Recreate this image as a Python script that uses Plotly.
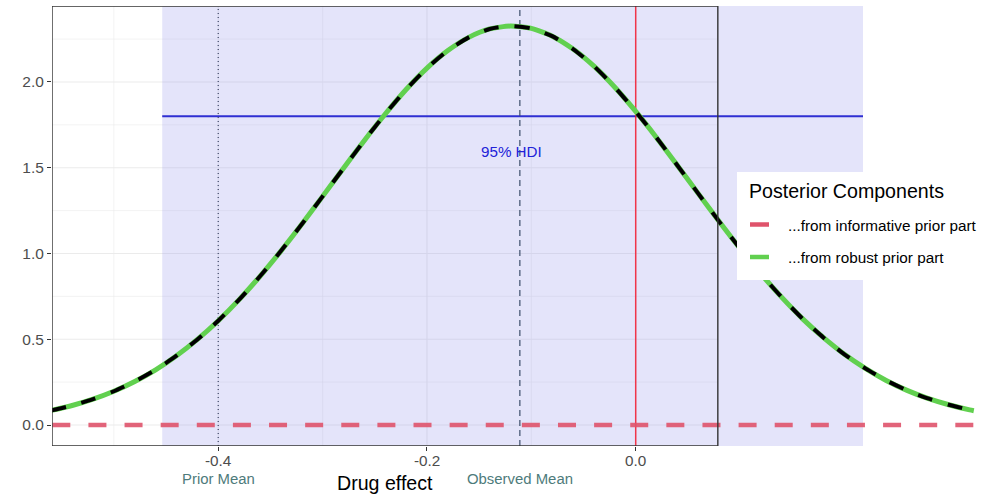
import plotly.graph_objects as go

# Posterior density of the drug effect (robust component carries all the mass)
effect = [-0.56, -0.54, -0.52, -0.50, -0.48, -0.46, -0.44, -0.42, -0.40, -0.38,
          -0.36, -0.34, -0.32, -0.30, -0.28, -0.26, -0.24, -0.22, -0.20, -0.18,
          -0.16, -0.14, -0.12, -0.10, -0.08, -0.06, -0.04, -0.02, 0.00, 0.02,
          0.04, 0.06, 0.08, 0.10, 0.12, 0.14, 0.16, 0.18, 0.20, 0.22,
          0.24, 0.26, 0.28, 0.30, 0.32, 0.324]
density_robust = [0.085, 0.114, 0.151, 0.197, 0.254, 0.322, 0.404, 0.499, 0.608, 0.731,
                  0.867, 1.014, 1.170, 1.333, 1.497, 1.659, 1.813, 1.956, 2.081, 2.183,
                  2.260, 2.309, 2.326, 2.312, 2.267, 2.192, 2.092, 1.969, 1.828, 1.675,
                  1.513, 1.349, 1.186, 1.029, 0.881, 0.744, 0.619, 0.509, 0.412, 0.330,
                  0.260, 0.202, 0.155, 0.118, 0.088, 0.083]
# Informative-prior component is flat at zero over the same span
effect_informative = [-0.559, 0.324]
density_informative = [0.0, 0.0]

# Reference values
hdi_low, hdi_high = -0.4537, 0.2178
hdi_density = 1.8
prior_mean = -0.4
observed_mean = -0.111
null_effect = 0.0

# Axes
x_range = [-0.5593, 0.3347]
panel_x = [-0.5593, 0.0787]
y_range = [-0.1223, 2.4428]
x_ticks = [-0.4, -0.2, 0.0]
x_tick_labels = ["-0.4", "-0.2", "0.0"]
y_ticks = [0.0, 0.5, 1.0, 1.5, 2.0]
y_tick_labels = ["0.0", "0.5", "1.0", "1.5", "2.0"]
x_grid_major = [-0.4, -0.2, 0.0]
x_grid_minor = [-0.5, -0.3, -0.1]
y_grid_major = [0.0, 0.5, 1.0, 1.5, 2.0]
y_grid_minor = [0.25, 0.75, 1.25, 1.75, 2.25]

legend_title = "Posterior Components"
legend_labels = ["...from informative prior part", "...from robust prior part"]

RED = "#DF536B"
GREEN = "#61D04F"
FONT = "Liberation Sans, Arial, sans-serif"
TICK_GREY = "#4D4D4D"

W, H = 999, 497
M_L, M_R, M_T, M_B = 52, 14, 6, 51


def px_x(px):
    return (px - M_L) / (W - M_L - M_R)


def px_y(py):
    return 1 - (py - M_T) / (H - M_T - M_B)


fig = go.Figure()

fig.add_trace(go.Scatter(
    x=effect_informative, y=density_informative, mode="lines",
    line=dict(color="rgba(223,83,107,0.9)", width=4.5, dash="18px,18.12px"),
    showlegend=False, hoverinfo="skip"))
fig.add_trace(go.Scatter(
    x=effect, y=density_robust, mode="lines",
    line=dict(color=GREEN, width=5, shape="spline", smoothing=0.6),
    showlegend=False, hoverinfo="skip"))
fig.add_trace(go.Scatter(
    x=effect, y=density_robust, mode="lines",
    line=dict(color="black", width=4, shape="spline", smoothing=0.6, dash="15px,16px"),
    showlegend=False, hoverinfo="skip"))

shapes = []
# panel grid, only inside the framed panel
for v in x_grid_major + x_grid_minor:
    shapes.append(dict(type="line", xref="x", yref="y", x0=v, x1=v, y0=y_range[0], y1=y_range[1],
                       line=dict(color="#EBEBEB", width=1.1 if v in x_grid_major else 0.6),
                       layer="below"))
for v in y_grid_major + y_grid_minor:
    shapes.append(dict(type="line", xref="x", yref="y", x0=panel_x[0], x1=panel_x[1], y0=v, y1=v,
                       line=dict(color="#EBEBEB", width=1.1 if v in y_grid_major else 0.6),
                       layer="below"))
# 95% HDI band
shapes.append(dict(type="rect", xref="x", yref="y", x0=hdi_low, x1=hdi_high,
                   y0=y_range[0], y1=y_range[1], fillcolor="rgba(148,148,236,0.25)",
                   line=dict(width=0), layer="below"))
# HDI density level
shapes.append(dict(type="line", xref="x", yref="y", x0=hdi_low, x1=hdi_high,
                   y0=hdi_density, y1=hdi_density,
                   line=dict(color="#2F2FD2", width=1.8), layer="below"))
# prior mean, observed mean, null effect
shapes.append(dict(type="line", xref="x", yref="y", x0=prior_mean, x1=prior_mean,
                   y0=y_range[0], y1=y_range[1],
                   line=dict(color="#4A5270", width=1.3, dash="1px,3px"), layer="below"))
shapes.append(dict(type="line", xref="x", yref="y", x0=observed_mean, x1=observed_mean,
                   y0=y_range[0], y1=y_range[1],
                   line=dict(color="#3D4F6B", width=1.2, dash="6px,4px"), layer="below"))
shapes.append(dict(type="line", xref="x", yref="y", x0=null_effect, x1=null_effect,
                   y0=y_range[0], y1=y_range[1],
                   line=dict(color="rgba(245,25,45,0.85)", width=1.5), layer="below"))
# panel frame
shapes.append(dict(type="rect", xref="x", yref="y", x0=panel_x[0], x1=panel_x[1],
                   y0=y_range[0], y1=y_range[1], line=dict(color="#333333", width=1.4),
                   fillcolor="rgba(0,0,0,0)", layer="above"))
# legend box and keys
shapes.append(dict(type="rect", xref="paper", yref="paper", x0=px_x(737), x1=px_x(1010),
                   y0=px_y(280), y1=px_y(172), fillcolor="white", line=dict(width=0),
                   layer="above"))
for key_y, col in [(224.5, RED), (257, GREEN)]:
    shapes.append(dict(type="line", xref="paper", yref="paper", x0=px_x(750), x1=px_x(769),
                       y0=px_y(key_y), y1=px_y(key_y), line=dict(color=col, width=4.5),
                       layer="above"))

annotations = [
    dict(text=legend_title, xref="paper", yref="paper", x=px_x(747), y=px_y(191),
         xanchor="left", yanchor="middle", showarrow=False,
         font=dict(family=FONT, size=19.6, color="black")),
    dict(text=legend_labels[0], xref="paper", yref="paper", x=px_x(786), y=px_y(225),
         xanchor="left", yanchor="middle", showarrow=False,
         font=dict(family=FONT, size=15.3, color="black")),
    dict(text=legend_labels[1], xref="paper", yref="paper", x=px_x(786), y=px_y(257),
         xanchor="left", yanchor="middle", showarrow=False,
         font=dict(family=FONT, size=15.3, color="black")),
    dict(text="95% HDI", xref="x", yref="y", x=-0.1188, y=1.592,
         xanchor="center", yanchor="middle", showarrow=False,
         font=dict(family=FONT, size=15.2, color="#2222D8")),
    dict(text="Prior Mean", xref="x", yref="paper", x=prior_mean, y=px_y(478.5),
         xanchor="center", yanchor="middle", showarrow=False,
         font=dict(family=FONT, size=14.9, color="#4E7B7B")),
    dict(text="Observed Mean", xref="x", yref="paper", x=observed_mean, y=px_y(478.5),
         xanchor="center", yanchor="middle", showarrow=False,
         font=dict(family=FONT, size=14.9, color="#4E7B7B")),
    dict(text="Drug effect", xref="x", yref="paper", x=(panel_x[0] + panel_x[1]) / 2,
         y=px_y(483), xanchor="center", yanchor="middle", showarrow=False,
         font=dict(family=FONT, size=19.6, color="black")),
]
# x tick labels sit tight under the tick marks
for v, lab in zip(x_ticks, x_tick_labels):
    annotations.append(dict(text=lab, xref="x", yref="paper", x=v, y=px_y(460.5),
                            xanchor="center", yanchor="middle", showarrow=False,
                            font=dict(family=FONT, size=15.3, color=TICK_GREY)))

fig.update_layout(
    width=W, height=H,
    margin=dict(l=M_L, r=M_R, t=M_T, b=M_B),
    paper_bgcolor="white", plot_bgcolor="rgba(0,0,0,0)",
    shapes=shapes, annotations=annotations,
    showlegend=False,
    xaxis=dict(range=x_range, tickvals=x_ticks, showticklabels=False,
               showgrid=False, zeroline=False, showline=False,
               ticks="outside", ticklen=4, tickwidth=1.1, tickcolor="#333333"),
    yaxis=dict(range=y_range, tickvals=y_ticks, ticktext=y_tick_labels,
               showgrid=False, zeroline=False, showline=False,
               ticks="outside", ticklen=4, tickwidth=1.1, tickcolor="#333333",
               tickfont=dict(family=FONT, size=15.5, color=TICK_GREY)),
)

fig.write_html("out.html")
